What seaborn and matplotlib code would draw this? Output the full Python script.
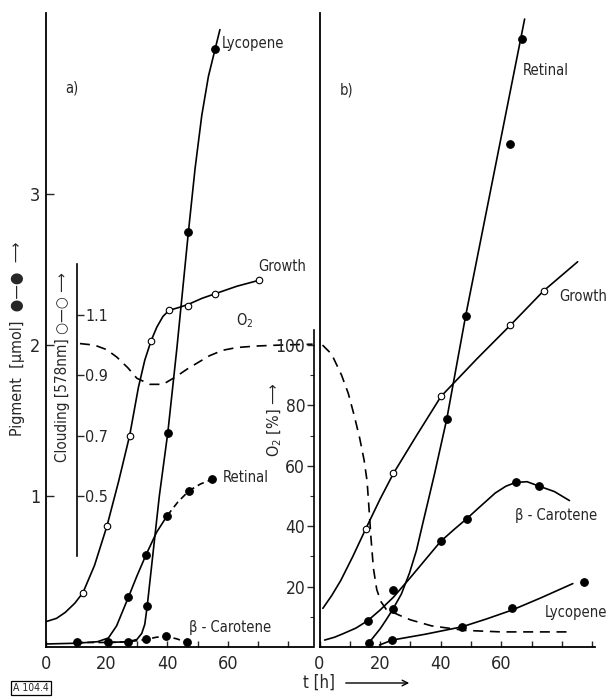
import numpy as np
import pandas as pd
import seaborn as sns
import matplotlib.pyplot as plt
from matplotlib.ticker import MultipleLocator, FixedLocator

sns.set_style('white')
plt.rcParams['font.family'] = ['DejaVu Sans']
plt.rcParams['font.stretch'] = 'condensed'

# ---------------- panel a) ----------------
# measured points (pigment in umol, growth as clouding at 578 nm, O2 in %)
lyc_a_t = [33.4, 40.2, 47.0, 55.8]
lyc_a_p = [0.27, 1.42, 2.75, 3.96]
ret_a_t = [27.2, 33.0, 40.0, 47.2, 54.8]
ret_a_p = [0.33, 0.61, 0.87, 1.035, 1.11]
bcar_a_t = [10.1, 20.6, 27.2, 33.0, 39.6, 46.6]
bcar_a_p = [0.03, 0.03, 0.035, 0.05, 0.07, 0.03]
grow_a_t = [12.2, 20.1, 27.6, 34.7, 40.6, 47.0, 55.8, 70.4]
grow_a_c = [0.18, 0.40, 0.70, 1.015, 1.115, 1.13, 1.17, 1.215]

# hand drawn curves
lyc_a_ct = [20.6, 27.2, 30.0, 31.6, 32.6, 33.4, 35.2, 37.4, 40.2, 43.2, 47.0, 49.2, 51.4, 53.6, 55.8, 57.4]
lyc_a_cp = [0.03, 0.035, 0.05, 0.09, 0.15, 0.27, 0.60, 1.0, 1.42, 1.98, 2.75, 3.17, 3.52, 3.78, 3.96, 4.09]
ret_a_ct = [0, 10.1, 17.0, 20.6, 23.3, 27.2, 30.0, 33.0, 36.5, 40.0]
ret_a_cp = [0.02, 0.025, 0.035, 0.06, 0.14, 0.33, 0.47, 0.61, 0.76, 0.87]
ret_a_dt = [40.0, 43.5, 47.2, 51.0, 54.8]
ret_a_dp = [0.87, 0.96, 1.035, 1.08, 1.11]
bcar_a_ct = [10.1, 20.6, 27.2, 30.0, 33.0, 36.5, 39.6, 43.0, 46.6]
bcar_a_cp = [0.03, 0.03, 0.035, 0.042, 0.05, 0.065, 0.07, 0.055, 0.03]
grow_a_ct = [0, 3.5, 6.4, 9.5, 12.2, 16.0, 20.1, 24.0, 27.6, 30.5, 32.6, 34.7, 36.6, 38.6, 40.6, 44.0,
             47.0, 51.5, 55.8, 63.0, 70.4]
grow_a_cc = [0.084, 0.095, 0.115, 0.145, 0.18, 0.27, 0.40, 0.55, 0.70, 0.86, 0.95, 1.015, 1.06, 1.095,
             1.115, 1.125, 1.135, 1.155, 1.17, 1.195, 1.215]
o2_a_t = [11.2, 16.0, 20.0, 23.4, 27.0, 30.0, 34.3, 38.6, 43.0, 46.5, 49.8, 54.0, 58.4, 63.0, 69.6, 77.0, 88.0]
o2_a_v = [100.5, 100, 98.5, 96, 92.5, 89, 87, 87, 89.6, 92, 94, 96.5, 98.3, 99.2, 99.7, 100, 100.3]

# ---------------- panel b) ----------------
ret_b_t = [16.2, 24.2, 42.0, 48.2, 63.0, 66.7]
ret_b_p = [0.025, 0.25, 1.51, 2.19, 3.33, 4.03]
bcar_b_t = [15.9, 24.4, 40.0, 48.6, 64.7, 72.4]
bcar_b_p = [0.174, 0.38, 0.70, 0.85, 1.09, 1.066]
lyc_b_t = [24.0, 47.1, 63.6, 87.2]
lyc_b_p = [0.046, 0.134, 0.256, 0.43]
grow_b_t = [15.2, 24.4, 40.1, 63.0, 74.0]
grow_b_c = [0.39, 0.575, 0.83, 1.066, 1.18]

ret_b_ct = [16.2, 18.0, 20.0, 22.0, 24.2, 27.0, 29.7, 32.0, 34.1, 36.0, 38.0, 40.0, 42.0, 48.2, 67.7]
ret_b_cp = [0.025, 0.07, 0.12, 0.18, 0.25, 0.35, 0.49, 0.64, 0.82, 0.98, 1.15, 1.33, 1.51, 2.19, 4.16]
bcar_b_ct = [1.7, 5.0, 8.0, 12.0, 15.9, 20.0, 24.4, 30.0, 35.0, 40.0, 44.5, 48.6, 53.0, 58.0, 61.5,
             64.7, 68.5, 72.4, 77.5, 82.5]
bcar_b_cp = [0.046, 0.065, 0.09, 0.125, 0.174, 0.245, 0.33, 0.46, 0.58, 0.70, 0.78, 0.85, 0.93, 1.02,
             1.065, 1.09, 1.095, 1.066, 1.03, 0.97]
lyc_b_ct = [19.8, 24.0, 35.0, 47.1, 55.0, 63.6, 73.0, 83.6]
lyc_b_cp = [0.013, 0.046, 0.085, 0.134, 0.185, 0.245, 0.325, 0.42]
grow_b_ct = [1.1, 4.0, 7.0, 11.0, 15.2, 20.0, 24.4, 32.0, 40.1, 52.0, 63.0, 74.0, 85.2]
grow_b_cc = [0.128, 0.17, 0.22, 0.30, 0.39, 0.49, 0.575, 0.70, 0.83, 0.955, 1.066, 1.18, 1.276]
o2_b_t = [1.0, 4.0, 7.3, 9.5, 11.5, 13.3, 14.7, 15.7, 16.4, 17.0, 17.8, 18.9, 20.3, 22.0, 26.4, 30.0, 37.0,
          48.0, 60.0, 82.5]
o2_b_v = [100, 97, 90, 84, 76.5, 69, 62, 55, 45, 36, 26, 19, 15, 12.5, 10.5, 9, 7, 5.5, 5.0, 5.0]

x_major = [0, 20, 40, 60]
pig_ticks = [1, 2, 3]
cloud_ticks = [0.5, 0.7, 0.9, 1.1]
o2_ticks = [20, 40, 60, 80, 100]
o2_minor = [10, 30, 50, 70, 90]

LW = 1.2
DASH = (0, (6, 4))
FS_TICK = 13
FS_TXT = 10.5
FS_LAB = 11.5


def curve(ax, t, y, ls='-'):
    sns.lineplot(x=t, y=y, ax=ax, color='black', lw=LW, linestyle=ls,
                 sort=False, estimator=None, legend=False)


def points(ax, t, y, filled=True):
    sns.scatterplot(x=t, y=y, ax=ax, s=30 if filled else 22,
                    color='black' if filled else 'white', edgecolor='black',
                    linewidth=0.8, zorder=5, legend=False)


fig = plt.figure(figsize=(6.16, 6.99), dpi=100)
bot = 1 - 647 / 699
top = 1 - 13 / 699
ax_a = fig.add_axes([46 / 616, bot, (313 - 46) / 616, top - bot])
ax_b = fig.add_axes([319.5 / 616, bot, (595 - 319.5) / 616, top - bot])

for ax, w in [(ax_a, 267), (ax_b, 275.5)]:
    ax.set_xlim(0, w / 3.03)
    ax.set_ylim(0, 4.2)
    for s in ['top', 'right']:
        ax.spines[s].set_visible(False)
    for s in ['left', 'bottom']:
        ax.spines[s].set_linewidth(1.3)
        ax.spines[s].set_color('black')
    ax.xaxis.set_major_locator(FixedLocator(x_major))
    ax.xaxis.set_minor_locator(MultipleLocator(10))
    ax.tick_params(axis='x', which='both', direction='in', length=4, width=1,
                   labelsize=FS_TICK, pad=6, bottom=True)
    ax.set_xlabel('')
    ax.set_ylabel('')

ax_a.set_yticks(pig_ticks)
ax_a.tick_params(axis='y', direction='in', length=6, width=1,
                 labelsize=FS_TICK, pad=4, left=True)
ax_b.set_yticks([])

# twin scales: clouding = pigment / 2, O2 % = pigment * 50
ax_ac = ax_a.twinx()
ax_ao = ax_a.twinx()
ax_bc = ax_b.twinx()
ax_bo = ax_b.twinx()
for ax in [ax_ac, ax_bc]:
    ax.set_ylim(0, 2.1)
for ax in [ax_ao, ax_bo]:
    ax.set_ylim(0, 210)
for ax in [ax_ac, ax_ao, ax_bc, ax_bo]:
    for s in ax.spines.values():
        s.set_visible(False)
    ax.set_yticks([])
    ax.set_ylabel('')

# clouding axis inside panel a
ax_ac.spines['right'].set_visible(True)
ax_ac.spines['right'].set_position(('axes', 31 / 267))
ax_ac.spines['right'].set_bounds(0.3, 1.27)
ax_ac.spines['right'].set_linewidth(1.2)
ax_ac.spines['right'].set_color('black')
ax_ac.set_yticks(cloud_ticks)
ax_ac.set_yticklabels([f'{v:.1f}' for v in cloud_ticks])
ax_ac.tick_params(axis='y', direction='out', length=5, width=1,
                  labelsize=11.5, pad=1, right=True)

# O2 axis between the panels
ax_bo.yaxis.tick_left()
ax_bo.spines['left'].set_visible(True)
ax_bo.spines['left'].set_position(('axes', -6 / 275.5))
ax_bo.spines['left'].set_bounds(0, 105)
ax_bo.spines['left'].set_linewidth(1.2)
ax_bo.spines['left'].set_color('black')
ax_bo.set_yticks(o2_ticks)
ax_bo.yaxis.set_minor_locator(FixedLocator(o2_minor))
ax_bo.tick_params(axis='y', which='major', direction='out', length=5, width=1,
                  labelsize=FS_TICK - 0.5, pad=1, left=True)
ax_bo.tick_params(axis='y', which='minor', direction='out', length=3, width=0.8, left=True)

# ---- panel a curves ----
curve(ax_a, lyc_a_ct, lyc_a_cp)
curve(ax_a, ret_a_ct, ret_a_cp)
curve(ax_a, ret_a_dt, ret_a_dp, ls=(0, (4, 2.5)))
curve(ax_a, bcar_a_ct, bcar_a_cp, ls=(0, (4, 2.5)))
curve(ax_ac, grow_a_ct, grow_a_cc)
curve(ax_ao, o2_a_t, o2_a_v, ls=DASH)
points(ax_a, lyc_a_t, lyc_a_p)
points(ax_a, ret_a_t, ret_a_p)
points(ax_a, bcar_a_t, bcar_a_p)
points(ax_ac, grow_a_t, grow_a_c, filled=False)

# ---- panel b curves ----
curve(ax_b, ret_b_ct, ret_b_cp)
curve(ax_b, bcar_b_ct, bcar_b_cp)
curve(ax_b, lyc_b_ct, lyc_b_cp)
curve(ax_bc, grow_b_ct, grow_b_cc)
curve(ax_bo, o2_b_t, o2_b_v, ls=DASH)
points(ax_b, ret_b_t, ret_b_p)
points(ax_b, bcar_b_t, bcar_b_p)
points(ax_b, lyc_b_t, lyc_b_p)
points(ax_bc, grow_b_t, grow_b_c, filled=False)

for ax in [ax_ac, ax_ao, ax_bc, ax_bo]:
    ax.set_xlabel('')
    ax.set_ylabel('')

# ---- annotations ----
ax_a.text(6.3, 3.70, 'a)', fontsize=FS_TXT, va='center')
ax_a.text(58.1, 4.00, 'Lycopene', fontsize=FS_TXT, va='center')
ax_a.text(70.0, 2.52, 'Growth', fontsize=FS_TXT, va='center')
ax_a.text(62.7, 2.16, 'O$_2$', fontsize=FS_TXT, va='center')
ax_a.text(58.4, 1.12, 'Retinal', fontsize=FS_TXT, va='center')
ax_a.text(47.2, 0.13, 'β - Carotene', fontsize=FS_TXT, va='center')

ax_b.text(6.8, 3.69, 'b)', fontsize=FS_TXT, va='center')
ax_b.text(67.2, 3.82, 'Retinal', fontsize=FS_TXT, va='center')
ax_b.text(79.0, 2.32, 'Growth', fontsize=FS_TXT, va='center')
ax_b.text(64.5, 0.87, 'β - Carotene', fontsize=FS_TXT, va='center')
ax_b.text(74.5, 0.23, 'Lycopene', fontsize=FS_TXT, va='center')

fig.text(18 / 616, 1 - 339 / 699, 'Pigment  [µmol]  ●—●  ⟶', rotation=90,
         ha='center', va='center', fontsize=FS_LAB)
fig.text(63 / 616, 1 - 367 / 699, 'Clouding [578nm] ○—○ ⟶', rotation=90,
         ha='center', va='center', fontsize=FS_LAB - 0.5)
fig.text(275 / 616, 1 - 420 / 699, 'O$_2$ [%] ⟶', rotation=90,
         ha='center', va='center', fontsize=FS_LAB)
fig.text(319 / 616, 1 - 683 / 699, 't [h]', ha='center', va='center',
         fontsize=FS_LAB + 0.5)
fig.add_artist(plt.Annotation('', xy=(412, 699 - 683), xytext=(343, 699 - 683),
                              xycoords='figure pixels', textcoords='figure pixels',
                              arrowprops=dict(arrowstyle='->', lw=1.0, color='black')))
fig.text(13 / 616, 1 - 688 / 699, 'A 104.4', ha='left', va='center', fontsize=7.5,
         bbox=dict(boxstyle='square,pad=0.2', fc='white', ec='black', lw=0.9))

fig.savefig('out.png', dpi=100)
